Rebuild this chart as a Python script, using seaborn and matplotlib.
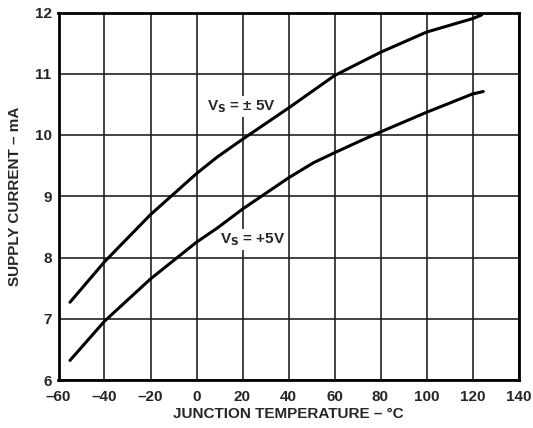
import matplotlib
matplotlib.use("Agg")
import matplotlib.pyplot as plt
import seaborn as sns
import pandas as pd

# Curve readings from the datasheet plot
temp_dual = [-55, -40, -20, 0, 9, 20, 40, 60, 71, 80, 100, 120, 124]
curr_dual = [7.27, 7.93, 8.70, 9.37, 9.64, 9.93, 10.44, 10.97, 11.18, 11.35, 11.68, 11.90, 11.96]

temp_single = [-55, -40, -20, 0, 9, 20, 40, 51, 60, 71, 80, 100, 120, 124.7]
curr_single = [6.32, 6.96, 7.65, 8.25, 8.48, 8.79, 9.30, 9.55, 9.71, 9.90, 10.05, 10.37, 10.67, 10.71]

x_ticks = [-60, -40, -20, 0, 20, 40, 60, 80, 100, 120, 140]
x_labels = ["–60", "–40", "–20", "0", "20", "40", "60", "80", "100", "120", "140"]
y_ticks = [6, 7, 8, 9, 10, 11, 12]

df = pd.concat([
    pd.DataFrame({"temp": temp_dual, "curr": curr_dual, "supply": "dual"}),
    pd.DataFrame({"temp": temp_single, "curr": curr_single, "supply": "single"}),
])

sns.set_style("white")
plt.rcParams["font.family"] = ["Liberation Sans", "DejaVu Sans"]
plt.rcParams["font.weight"] = "bold"

fig = plt.figure(figsize=(5.33, 4.28), dpi=100)
ax = fig.add_axes([58.5 / 533, 1 - 380 / 428, 460 / 533, 367.5 / 428])

sns.lineplot(data=df, x="temp", y="curr", hue="supply", palette=["black", "black"],
             linewidth=2.2, legend=False, ax=ax, estimator=None, sort=False, zorder=3)

ax.set_xlim(-60, 140)
ax.set_ylim(6, 12)
ax.set_xticks(x_ticks)
ax.set_xticklabels(x_labels)
ax.set_yticks(y_ticks)
ax.grid(True, color="#222222", linewidth=1.2)
for s in ax.spines.values():
    s.set_color("black")
    s.set_linewidth(2)
ax.tick_params(length=0, labelsize=11)
ax.tick_params(axis="x", pad=7)
ax.tick_params(axis="y", pad=5)
for lab in ax.get_xticklabels() + ax.get_yticklabels():
    lab.set_fontweight("bold")

ax.set_xlabel("JUNCTION TEMPERATURE – °C", fontsize=11, fontweight="bold", labelpad=2)
ax.set_ylabel("SUPPLY CURRENT – mA", fontsize=11, fontweight="bold", labelpad=9)

# labels sit on a white patch over the grid but under the curves
box = dict(facecolor="white", edgecolor="none", pad=1.5)
ax.text(4.5, 10.47, r"V$_\mathbf{S}$ = ± 5V", fontsize=11, fontweight="bold",
        ha="left", va="center", bbox=box, zorder=2)
ax.text(10.2, 8.29, r"V$_\mathbf{S}$ = +5V", fontsize=11, fontweight="bold",
        ha="left", va="center", bbox=box, zorder=2)

fig.savefig("out.png", dpi=100)
